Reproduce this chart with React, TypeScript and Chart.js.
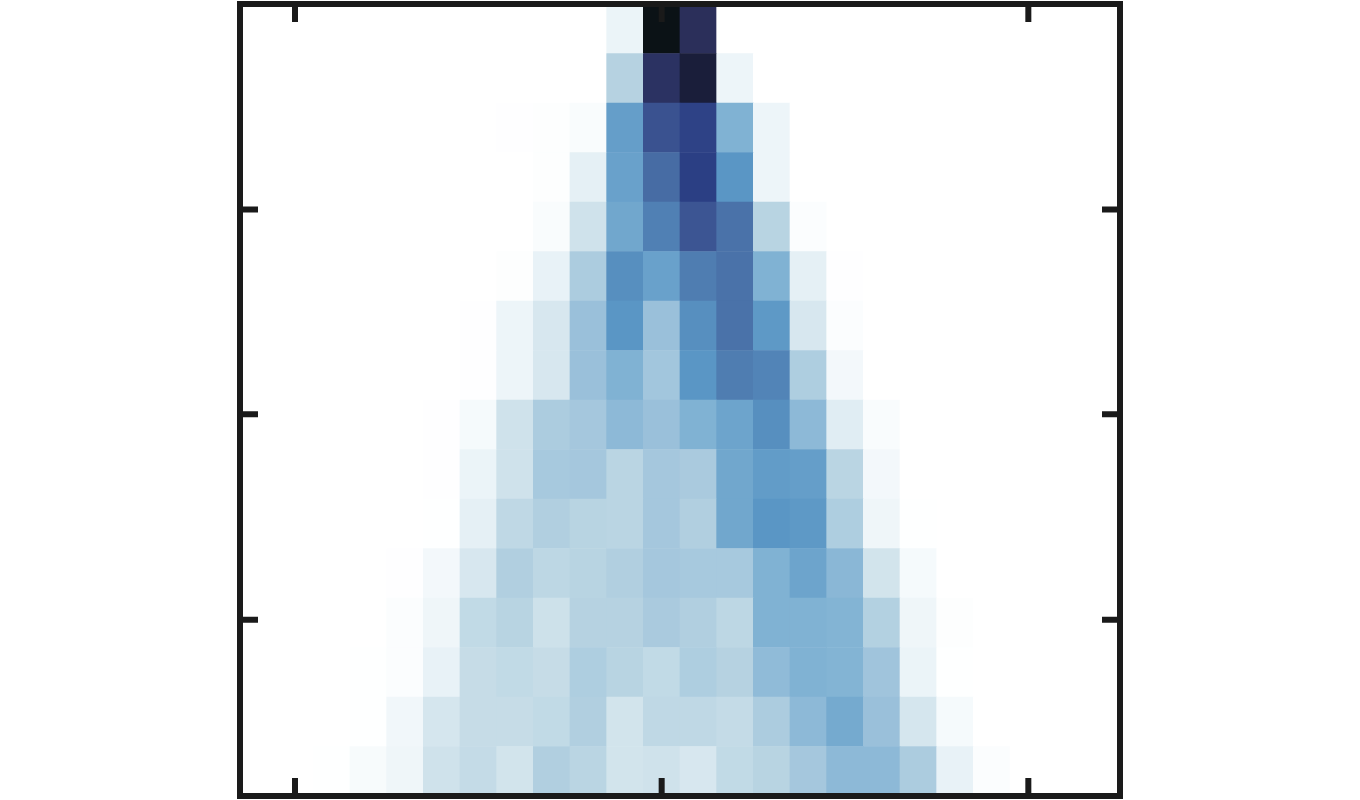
import React, { useEffect, useRef } from "react";
import { Chart, registerables } from "chart.js";

Chart.register(...registerables);

const columns = ["c0","c1","c2","c3","c4","c5","c6","c7","c8","c9","c10","c11","c12","c13","c14","c15","c16","c17","c18","c19","c20","c21","c22","c23"];
const xTickColumns = [1, 11, 21];
const yTickValues = [3.56, 7.71, 11.85];

// Intensity per column, one array per row, from top row to bottom row
const row00 = [0,0,0,0,0,0,0,0,0,0,10,100,91,0,0,0,0,0,0,0,0,0,0,0];
const row01 = [0,0,0,0,0,0,0,0,0,0,31,90,95,9,0,0,0,0,0,0,0,0,0,0];
const row02 = [0,0,0,0,0,0,0,0.5,1,3,57,80,85,50,9,0,0,0,0,0,0,0,0,0];
const row03 = [0,0,0,0,0,0,0,0,1,12,56,72,86,60,9,0,0,0,0,0,0,0,0,0];
const row04 = [0,0,0,0,0,0,0,0,3,20,54,66,79,70,30,2,0,0,0,0,0,0,0,0];
const row05 = [0,0,0,0,0,0,0,1,11,35,62,56,67,70,50,12,0.5,0,0,0,0,0,0,0];
const row06 = [0,0,0,0,0,0,0.5,9,17,42,60,42,62,70,59,17,2,0,0,0,0,0,0,0];
const row07 = [0,0,0,0,0,0,0.5,9,17,42,50,39,60,67,65,34,6,0,0,0,0,0,0,0];
const row08 = [0,0,0,0,0,0.5,5,20,35,38,46,42,50,55,62,46,14,3,0,0,0,0,0,0];
const row09 = [0,0,0,0,0,0.5,10,20,37,38,29,38,36,54,58,57,29,6,0,0,0,0,0,0];
const row10 = [0,0,0,0,0,0.3,12,27,33,30,29,38,33,54,60,59,34,8,0.3,0,0,0,0,0];
const row11 = [0,0,0,0,0.5,6,17,33,28,30,33,38,37,37,50,55,47,19,5,0,0,0,0,0];
const row12 = [0,0,0,0,2,8,26,30,21,31,31,36,33,28,50,50,49,32,8,1,0,0,0,0];
const row13 = [0,0,0,0.3,2,11,24,26,24,34,30,26,34,31,45,50,49,40,10,0.3,0,0,0,0];
const row14 = [0,0,0,0.3,7,18,24,24,26,33,19,27,27,25,35,46,53,42,18,5,0,0,0,0];
const row15 = [0,0,0.3,4,8,20,25,19,33,29,19,20,17,26,30,38,46,46,35,11,2,0,0,0];

const rowsTopToBottom = [row00,row01,row02,row03,row04,row05,row06,row07,row08,row09,row10,row11,row12,row13,row14,row15];

const scaleStops: [number, number, number, number][] = [
  [0, 255, 255, 255],
  [10, 235, 244, 248],
  [20, 207, 226, 235],
  [30, 184, 212, 226],
  [40, 160, 196, 220],
  [50, 128, 178, 211],
  [60, 90, 150, 197],
  [70, 74, 114, 169],
  [80, 58, 82, 144],
  [86, 43, 63, 132],
  [91, 43, 47, 90],
  [95, 26, 30, 58],
  [100, 11, 18, 22],
];

function colorFor(v: number): string {
  for (let i = 1; i < scaleStops.length; i++) {
    const a = scaleStops[i - 1];
    const b = scaleStops[i];
    if (v <= b[0]) {
      const t = (v - a[0]) / (b[0] - a[0]);
      const c = [1, 2, 3].map((k) => Math.round(a[k] + (b[k] - a[k]) * t));
      return `rgb(${c[0]},${c[1]},${c[2]})`;
    }
  }
  return "rgb(11,18,22)";
}

const FRAME = "#1a1a1a";
const FRAME_WIDTH = 6;
const TICK_LENGTH = 18;

const framePlugin = {
  id: "frameAndTicks",
  afterDatasetsDraw(chart: any) {
    const { ctx, chartArea: a, scales } = chart;
    ctx.save();
    ctx.strokeStyle = FRAME;
    ctx.lineWidth = FRAME_WIDTH;
    ctx.lineCap = "butt";
    ctx.beginPath();
    for (const t of scales.x.ticks) {
      const px = scales.x.getPixelForValue(t.value);
      ctx.moveTo(px, a.bottom);
      ctx.lineTo(px, a.bottom - TICK_LENGTH);
      ctx.moveTo(px, a.top);
      ctx.lineTo(px, a.top + TICK_LENGTH);
    }
    for (const t of scales.y.ticks) {
      const py = scales.y.getPixelForValue(t.value);
      ctx.moveTo(a.left, py);
      ctx.lineTo(a.left + TICK_LENGTH, py);
      ctx.moveTo(a.right, py);
      ctx.lineTo(a.right - TICK_LENGTH, py);
    }
    ctx.stroke();
    ctx.lineJoin = "miter";
    ctx.strokeRect(a.left, a.top, a.right - a.left, a.bottom - a.top);
    ctx.restore();
  },
};

export default function App() {
  const ref = useRef<HTMLCanvasElement>(null);
  useEffect(() => {
    const datasets = [...rowsTopToBottom].reverse().map((row, i) => ({
      label: `row ${i}`,
      data: row.map(() => 1),
      backgroundColor: row.map(colorFor),
      borderWidth: 0,
      barPercentage: 1,
      categoryPercentage: 1,
      stack: "cells",
    }));
    const chart = new Chart(ref.current as HTMLCanvasElement, {
      type: "bar",
      data: { labels: columns, datasets },
      plugins: [framePlugin],
      options: {
        animation: false,
        responsive: false,
        devicePixelRatio: 1,
        layout: { padding: { left: 240, right: 240, top: 4, bottom: 4 } },
        plugins: { legend: { display: false }, tooltip: { enabled: false }, title: { display: false } },
        scales: {
          x: {
            stacked: true,
            grid: { display: false, drawTicks: false },
            border: { display: false },
            ticks: { display: false },
            afterBuildTicks: (s: any) => {
              s.ticks = xTickColumns.map((value) => ({ value }));
            },
          },
          y: {
            stacked: true,
            min: 0,
            max: 16,
            grid: { display: false, drawTicks: false },
            border: { display: false },
            ticks: { display: false },
            afterBuildTicks: (s: any) => {
              s.ticks = yTickValues.map((value) => ({ value }));
            },
          },
        },
      },
    } as any);
    return () => chart.destroy();
  }, []);
  return (
    <canvas
      ref={ref}
      width={1360}
      height={800}
      style={{ position: "absolute", left: 0, top: 0, display: "block", background: "#ffffff" }}
    />
  );
}
